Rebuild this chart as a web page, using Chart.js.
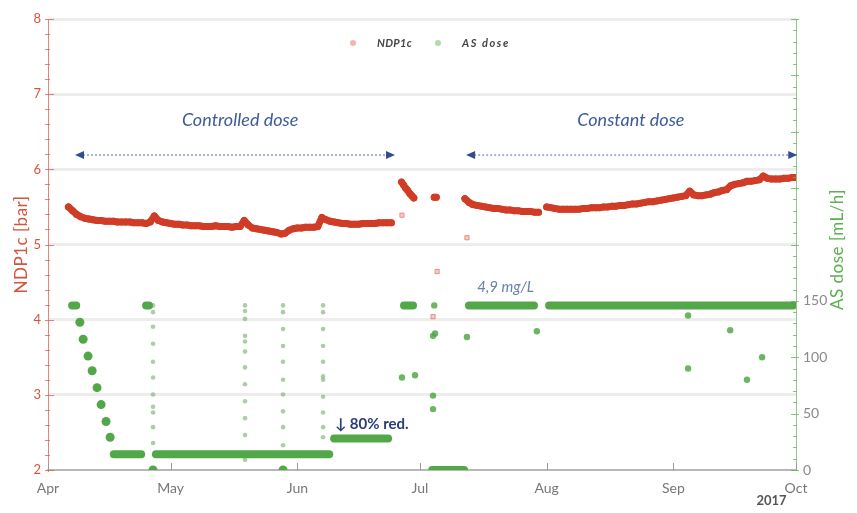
<!DOCTYPE html>
<html>
<head>
<meta charset="utf-8">
<script src="https://cdn.jsdelivr.net/npm/chart.js@4.4.1/dist/chart.umd.min.js"></script>
<style>
  html, body { margin: 0; padding: 0; background: #ffffff; }
  #wrap { width: 857px; height: 513px; }
</style>
</head>
<body>
<div id="wrap"><canvas id="c" width="857" height="513"></canvas></div>
<script>
// X positions are days counted from 1 April 2017.
const monthStarts = [0, 30, 61, 91, 122, 153, 183];
const monthLabels = ['Apr', 'May', 'Jun', 'Jul', 'Aug', 'Sep', 'Oct'];

// NDP1c [bar] — [day, value]
const ndpControlled = [
  [5,5.50],[6,5.45],[7,5.40],[8,5.37],[9,5.35],[10,5.34],[11,5.33],[12,5.32],[13,5.32],[14,5.31],
  [15,5.31],[16,5.31],[17,5.30],[18,5.30],[19,5.30],[20,5.30],[21,5.29],[22,5.29],[23,5.29],[24,5.28],
  [25,5.30],[26,5.38],[27,5.32],[28,5.30],[29,5.29],[30,5.28],[31,5.27],[32,5.27],[33,5.26],[34,5.26],
  [35,5.25],[36,5.25],[37,5.25],[38,5.24],[39,5.24],[40,5.24],[41,5.25],[42,5.24],[43,5.24],[44,5.24],
  [45,5.23],[46,5.24],[47,5.24],[48,5.32],[49,5.26],[50,5.22],[51,5.21],[52,5.20],[53,5.19],[54,5.18],
  [55,5.17],[56,5.16],[57,5.14],[58,5.15],[59,5.19],[60,5.21],[61,5.22],[62,5.22],[63,5.23],[64,5.23],
  [65,5.23],[66,5.24],[67,5.36],[68,5.33],[69,5.31],[70,5.30],[71,5.29],[72,5.28],[73,5.28],[74,5.27],
  [75,5.27],[76,5.27],[77,5.28],[78,5.28],[79,5.28],[80,5.28],[81,5.29],[82,5.29],[83,5.29],[84,5.29]
];
const ndpRestart = [[86.5,5.83],[87,5.79],[87.5,5.75],[88,5.72],[88.5,5.68],[89,5.65],[89.5,5.62]];
const ndpInterim = [[94.5,5.63],[95,5.63]];
const ndpConstantA = [
  [102,5.61],[103,5.56],[104,5.53],[105,5.52],[106,5.51],[107,5.50],[108,5.49],[109,5.48],[110,5.48],
  [111,5.47],[112,5.46],[113,5.46],[114,5.45],[115,5.45],[116,5.44],[117,5.44],[118,5.44],[119,5.43],[120,5.43]
];
const ndpConstantB = [
  [122,5.50],[123,5.49],[124,5.48],[125,5.47],[126,5.47],[127,5.47],[128,5.47],[129,5.47],[130,5.47],
  [131,5.48],[132,5.48],[133,5.49],[134,5.49],[135,5.49],[136,5.50],[137,5.50],[138,5.51],[139,5.51],
  [140,5.52],[141,5.52],[142,5.53],[143,5.54],[144,5.54],[145,5.55],[146,5.56],[147,5.57],[148,5.57],
  [149,5.58],[150,5.59],[151,5.60],[152,5.61],[153,5.62],[154,5.63],[155,5.64],[156,5.65],[157,5.71],
  [158,5.66],[159,5.65],[160,5.65],[161,5.66],[162,5.67],[163,5.69],[164,5.70],[165,5.72],[166,5.73],
  [167,5.78],[168,5.80],[169,5.81],[170,5.82],[171,5.84],[172,5.84],[173,5.85],[174,5.86],[175,5.91],
  [176,5.88],[177,5.87],[178,5.87],[179,5.87],[180,5.88],[181,5.88],[182,5.89],[183,5.89]
];
const ndpIsolated = [[86.6,5.39],[94.2,4.04],[95.2,4.64],[102.5,5.09]];

// AS dose [mL/h] — constant-dose runs, [start, end] pairs
const doseRuns = [
  [[5.9,146],[6.9,146]],
  [[16.1,14],[22.8,14]],
  [[24.0,146],[24.7,146]],
  [[26.4,14],[68.8,14]],
  [[70.0,28],[83.2,28]],
  [[87.1,146],[89.3,146]],
  [[94.0,0],[101.8,0]],
  [[103.0,146],[118.9,146]],
  [[122.6,146],[182.3,146]]
];
// AS dose — stepwise reduction at start-up
const doseSteps = [
  [7.8,131],[8.6,116],[9.8,101],[10.8,88],[12.0,73],[13.0,58],[14.2,43],[15.2,29],[25.7,0],[57.5,0]
];
// AS dose — individual readings
const doseSingles = [
  [86.6,82],[89.8,84],[94.5,146],[94.2,119],[94.7,121],[94.2,66],[94.2,54],
  [102.5,118],[119.6,123],[156.6,137],[156.6,90],[166.9,124],[171.0,80],[174.7,100]
];
// AS dose — readings logged while the pump was ramping
const doseRamps = [
  [25.7,146],[25.7,140],[25.7,127],[25.7,112],[25.7,96],[25.7,82],[25.7,67],[25.7,56],[25.7,51],[25.7,38],[25.7,24],
  [48.2,146],[48.2,141],[48.2,134],[48.2,119],[48.2,114],[48.2,105],[48.2,91],[48.2,76],[48.2,61],[48.2,46],[48.2,31],[48.2,9],
  [57.5,146],[57.5,140],[57.5,125],[57.5,110],[57.5,96],[57.5,80],[57.5,67],[57.5,52],[57.5,38],[57.5,22],
  [67.3,146],[67.3,140],[67.3,125],[67.3,110],[67.3,96],[67.3,83],[67.3,80],[67.3,65],[67.3,51],[67.3,38],[67.3,29]
];

const RED = '#d03c26';
const GREEN = '#52a848';
const FONT = 'Lato, "Open Sans", "DejaVu Sans", sans-serif';

const toPoints = arr => arr.map(([x, y]) => ({ x, y }));

const datasets = [];
[ndpControlled, ndpRestart, ndpInterim, ndpConstantA, ndpConstantB].forEach(seg => datasets.push({
  label: 'NDP1c', data: toPoints(seg), yAxisID: 'y', showLine: true,
  borderColor: RED, backgroundColor: RED, borderWidth: 7, pointRadius: 3.5, pointBorderWidth: 0,
  pointHoverRadius: 3.5, borderJoinStyle: 'round', borderCapStyle: 'round', order: 1
}));
datasets.push({
  label: 'NDP1c', data: toPoints(ndpIsolated), yAxisID: 'y', pointStyle: 'rect',
  pointRadius: 3, backgroundColor: 'rgba(235,160,150,0.55)', borderColor: 'rgba(215,95,85,0.6)',
  pointBorderWidth: 1, order: 1
});
doseRuns.forEach(run => datasets.push({
  label: 'AS dose', data: toPoints(run), yAxisID: 'y2', showLine: true,
  borderColor: GREEN, backgroundColor: GREEN, borderWidth: 8, borderCapStyle: 'round',
  pointRadius: 0, pointHoverRadius: 0, order: 2
}));
datasets.push({
  label: 'AS dose', data: toPoints(doseSteps), yAxisID: 'y2',
  pointRadius: 4.5, backgroundColor: GREEN, pointBorderWidth: 0, order: 2
});
datasets.push({
  label: 'AS dose', data: toPoints(doseSingles), yAxisID: 'y2',
  pointRadius: 3.2, backgroundColor: 'rgba(82,168,72,0.85)', pointBorderWidth: 0, order: 2
});
datasets.push({
  label: 'AS dose', data: toPoints(doseRamps), yAxisID: 'y2',
  pointRadius: 2.3, backgroundColor: 'rgba(120,170,110,0.6)', pointBorderWidth: 0, order: 2
});

function text(ctx, str, x, y, font, color, align = 'left', rot = 0, spacing = 0) {
  ctx.save();
  ctx.translate(x, y);
  if (rot) ctx.rotate(rot);
  ctx.font = font;
  if (spacing) ctx.letterSpacing = spacing + 'px';
  ctx.fillStyle = color;
  ctx.textAlign = align;
  ctx.textBaseline = 'middle';
  ctx.fillText(str, 0, 0);
  ctx.restore();
}

function doubleArrow(ctx, x1, x2, py) {
  ctx.save();
  ctx.strokeStyle = 'rgba(120,140,180,0.65)';
  ctx.lineWidth = 2;
  ctx.setLineDash([2, 2]);
  ctx.beginPath();
  ctx.moveTo(x1 + 8, py); ctx.lineTo(x2 - 8, py);
  ctx.stroke();
  ctx.setLineDash([]);
  ctx.fillStyle = '#2f4d92';
  ctx.beginPath();
  ctx.moveTo(x1, py); ctx.lineTo(x1 + 9, py - 4); ctx.lineTo(x1 + 9, py + 4); ctx.closePath();
  ctx.fill();
  ctx.beginPath();
  ctx.moveTo(x2, py); ctx.lineTo(x2 - 9, py - 4); ctx.lineTo(x2 - 9, py + 4); ctx.closePath();
  ctx.fill();
  ctx.restore();
}

const decorations = {
  id: 'decorations',
  afterDraw(chart) {
    const { ctx, chartArea: a, scales: { x, y, y2 } } = chart;
    ctx.save();
    // left axis ticks (major every 1 bar, minor every 0.2 bar)
    ctx.strokeStyle = 'rgba(215,95,85,0.75)';
    ctx.lineWidth = 1;
    for (let i = 0; i <= 30; i++) {
      const py = Math.round(y.getPixelForValue(2 + i * 0.2)) + 0.5;
      const major = i % 5 === 0;
      ctx.beginPath();
      ctx.moveTo(a.left - 3, py);
      ctx.lineTo(a.left + (major ? 6 : 2), py);
      ctx.stroke();
    }
    // right axis ticks
    ctx.strokeStyle = 'rgba(100,175,90,0.75)';
    for (let v = 0; v <= 400; v += 10) {
      const py = Math.round(y2.getPixelForValue(v)) + 0.5;
      const major = v % 50 === 0;
      ctx.beginPath();
      ctx.moveTo(a.right - (major ? 5 : 3), py);
      ctx.lineTo(a.right + (major ? 3 : 1), py);
      ctx.stroke();
    }
    // month ticks along the time axis
    ctx.strokeStyle = '#9a9a9a';
    monthStarts.forEach(d => {
      const px = Math.round(x.getPixelForValue(d)) + 0.5;
      ctx.beginPath();
      ctx.moveTo(px, a.bottom);
      ctx.lineTo(px, a.bottom - 7);
      ctx.stroke();
    });
    ctx.restore();

    // axis titles
    text(ctx, 'NDP1c [bar]', 22, (a.top + a.bottom) / 2, `17px ${FONT}`, '#d4553f', 'center', -Math.PI / 2, 0.5);
    text(ctx, 'AS dose [mL/h]', 838, (a.top + a.bottom) / 2 + 5, `17px ${FONT}`, '#5caf50', 'center', -Math.PI / 2, 0.5);
    text(ctx, '2017', x.getPixelForValue(177), a.bottom + 31, `bold 13px ${FONT}`, '#555', 'center');

    // legend
    ctx.save();
    ctx.fillStyle = 'rgba(235,150,140,0.7)';
    ctx.beginPath(); ctx.arc(353, 43, 3, 0, Math.PI * 2); ctx.fill();
    ctx.fillStyle = 'rgba(150,200,140,0.7)';
    ctx.beginPath(); ctx.arc(438, 43, 3, 0, Math.PI * 2); ctx.fill();
    ctx.restore();
    text(ctx, 'NDP1c', 377, 43, `italic bold 11px ${FONT}`, '#444', 'left', 0, 0.3);
    text(ctx, 'AS dose', 462, 43, `italic bold 11px ${FONT}`, '#444', 'left', 0, 1.6);

    // period annotations
    const arrowY = y.getPixelForValue(6.19);
    doubleArrow(ctx, x.getPixelForValue(6.6), x.getPixelForValue(84.9), arrowY);
    doubleArrow(ctx, x.getPixelForValue(102.3), x.getPixelForValue(183.3), arrowY);
    text(ctx, 'Controlled dose', x.getPixelForValue(47), y.getPixelForValue(6.65), `italic 18px ${FONT}`, '#3d5a99', 'center');
    text(ctx, 'Constant dose', x.getPixelForValue(142.6), y.getPixelForValue(6.65), `italic 18px ${FONT}`, '#3d5a99', 'center');
    text(ctx, '4,9 mg/L', x.getPixelForValue(105), y.getPixelForValue(4.43), `italic 15px ${FONT}`, '#6a7fb0');
    text(ctx, '\u2193 80% red.', x.getPixelForValue(70.2), y.getPixelForValue(2.61), `bold 15px ${FONT}`, '#283c78');
  }
};

new Chart(document.getElementById('c'), {
  type: 'scatter',
  data: { datasets },
  options: {
    responsive: false,
    animation: false,
    devicePixelRatio: 1,
    layout: { padding: { top: 19, left: 0, right: 0, bottom: 0 } },
    plugins: { legend: { display: false }, tooltip: { enabled: false } },
    scales: {
      x: {
        type: 'linear', position: 'bottom', min: 0, max: 183,
        grid: { display: false, drawTicks: false },
        border: { display: true, color: '#b8b8b8', width: 2 },
        afterBuildTicks: s => { s.ticks = monthStarts.map(v => ({ value: v })); },
        ticks: {
          autoSkip: false, maxRotation: 0, padding: 10, color: '#777',
          font: { size: 14, family: FONT },
          callback: v => { const i = monthStarts.indexOf(v); return i >= 0 ? monthLabels[i] : ''; }
        },
        afterFit: s => { s.height = 43; }
      },
      y: {
        type: 'linear', position: 'left', min: 2, max: 8,
        grid: {
          drawTicks: false, lineWidth: 3,
          color: c => (c.tick && c.tick.value === 2) ? 'rgba(0,0,0,0)' : '#ededed'
        },
        border: { color: 'rgba(215,95,85,0.75)', width: 1 },
        ticks: { stepSize: 1, padding: 7, color: '#d4553f', font: { size: 13, family: FONT } },
        afterFit: s => { s.width = 48; }
      },
      y2: {
        type: 'linear', position: 'right', min: 0, max: 400,
        grid: { display: false, drawTicks: false },
        border: { color: 'rgba(100,175,90,0.7)', width: 1, dash: [3, 3] },
        ticks: {
          stepSize: 50, padding: 7, color: '#8a8a8a', font: { size: 14, family: FONT },
          callback: v => (v <= 150 ? String(v) : '')
        },
        afterFit: s => { s.width = 61; }
      }
    }
  },
  plugins: [decorations]
});
</script>
</body>
</html>
